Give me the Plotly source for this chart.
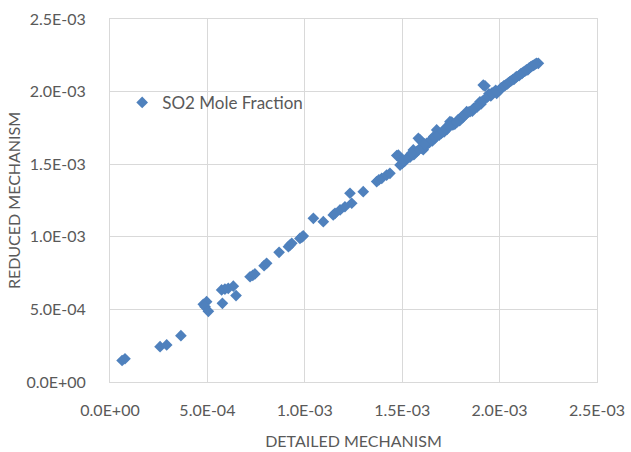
import plotly.graph_objects as go

# SO2 mole fraction: detailed mechanism (x) vs reduced mechanism (y)
detailed = [
    6.2e-5, 7.7e-5, 2.57e-4, 2.91e-4, 3.64e-4,
    4.79e-4, 4.96e-4, 4.88e-4, 5.05e-4, 5.77e-4, 5.73e-4, 5.90e-4, 6.07e-4, 6.33e-4, 6.47e-4,
    7.19e-4, 7.33e-4, 7.44e-4, 7.91e-4, 8.04e-4, 8.68e-4, 9.16e-4, 9.25e-4, 9.33e-4,
    9.75e-4, 9.92e-4, 9.85e-4,
    1.044e-3, 1.095e-3, 1.146e-3, 1.155e-3, 1.181e-3, 1.206e-3, 1.232e-3, 1.241e-3, 1.300e-3,
    1.369e-3, 1.380e-3, 1.395e-3, 1.420e-3, 1.437e-3,
    1.472e-3, 1.480e-3, 1.489e-3, 1.497e-3, 1.500e-3, 1.512e-3, 1.523e-3, 1.540e-3, 1.557e-3,
    1.560e-3, 1.574e-3, 1.583e-3, 1.591e-3, 1.600e-3, 1.608e-3, 1.620e-3, 1.626e-3, 1.640e-3,
    1.655e-3, 1.668e-3, 1.677e-3, 1.690e-3, 1.700e-3, 1.715e-3, 1.730e-3, 1.745e-3, 1.754e-3,
    1.760e-3, 1.770e-3, 1.780e-3, 1.795e-3, 1.810e-3, 1.825e-3, 1.831e-3, 1.848e-3, 1.860e-3,
    1.874e-3, 1.885e-3, 1.899e-3, 1.905e-3, 1.916e-3, 1.925e-3, 1.935e-3, 1.945e-3, 1.955e-3,
    1.965e-3, 1.975e-3, 1.985e-3, 1.995e-3, 2.002e-3, 2.015e-3, 2.030e-3, 2.045e-3, 2.060e-3,
    2.075e-3, 2.088e-3, 2.100e-3, 2.115e-3, 2.130e-3, 2.145e-3, 2.160e-3, 2.175e-3, 2.190e-3,
    2.199e-3,
    # extra samples filling the dense upper band
    1.505e-3, 1.530e-3, 1.548e-3, 1.585e-3, 1.615e-3, 1.648e-3, 1.662e-3, 1.684e-3, 1.708e-3,
    1.722e-3, 1.738e-3, 1.788e-3, 1.803e-3, 1.818e-3, 1.840e-3, 1.867e-3, 1.892e-3, 1.912e-3,
    1.940e-3, 1.960e-3, 1.980e-3, 2.008e-3, 2.022e-3, 2.038e-3, 2.052e-3, 2.068e-3, 2.082e-3,
    2.108e-3, 2.122e-3, 2.138e-3, 2.152e-3, 2.168e-3, 2.183e-3,
]
reduced = [
    1.48e-4, 1.60e-4, 2.43e-4, 2.55e-4, 3.19e-4,
    5.35e-4, 5.53e-4, 5.19e-4, 4.87e-4, 5.42e-4, 6.34e-4, 6.40e-4, 6.45e-4, 6.60e-4, 5.95e-4,
    7.25e-4, 7.35e-4, 7.44e-4, 8.01e-4, 8.17e-4, 8.93e-4, 9.32e-4, 9.45e-4, 9.55e-4,
    9.89e-4, 1.006e-3, 9.98e-4,
    1.127e-3, 1.104e-3, 1.150e-3, 1.162e-3, 1.185e-3, 1.207e-3, 1.300e-3, 1.231e-3, 1.311e-3,
    1.380e-3, 1.392e-3, 1.403e-3, 1.425e-3, 1.437e-3,
    1.560e-3, 1.563e-3, 1.494e-3, 1.529e-3, 1.505e-3, 1.520e-3, 1.540e-3, 1.548e-3, 1.598e-3,
    1.565e-3, 1.586e-3, 1.678e-3, 1.668e-3, 1.610e-3, 1.600e-3, 1.625e-3, 1.643e-3, 1.650e-3,
    1.660e-3, 1.680e-3, 1.736e-3, 1.700e-3, 1.712e-3, 1.722e-3, 1.740e-3, 1.793e-3, 1.790e-3,
    1.770e-3, 1.775e-3, 1.790e-3, 1.800e-3, 1.820e-3, 1.840e-3, 1.862e-3, 1.862e-3, 1.865e-3,
    1.890e-3, 1.895e-3, 1.930e-3, 1.915e-3, 2.045e-3, 2.040e-3, 1.960e-3, 1.985e-3, 1.970e-3,
    1.990e-3, 2.000e-3, 1.988e-3, 2.005e-3, 2.011e-3, 2.030e-3, 2.045e-3, 2.060e-3, 2.075e-3,
    2.085e-3, 2.103e-3, 2.110e-3, 2.125e-3, 2.140e-3, 2.150e-3, 2.170e-3, 2.180e-3, 2.195e-3,
    2.195e-3,
    1.525e-3, 1.545e-3, 1.575e-3, 1.600e-3, 1.640e-3, 1.668e-3, 1.690e-3, 1.700e-3, 1.725e-3,
    1.748e-3, 1.760e-3, 1.808e-3, 1.825e-3, 1.838e-3, 1.858e-3, 1.885e-3, 1.905e-3, 1.935e-3,
    1.968e-3, 1.990e-3, 2.008e-3, 2.025e-3, 2.040e-3, 2.052e-3, 2.068e-3, 2.082e-3, 2.098e-3,
    2.122e-3, 2.135e-3, 2.150e-3, 2.163e-3, 2.178e-3, 2.190e-3,
]

tick_vals = [0.0, 5e-4, 1e-3, 1.5e-3, 2e-3, 2.5e-3]
tick_text = ["0.0E+00", "5.0E-04", "1.0E-03", "1.5E-03", "2.0E-03", "2.5E-03"]

BLUE = "#4F81BD"
GRID = "#D9D9D9"
TEXT = "#595959"
FONT = "Lato"

fig = go.Figure()
fig.add_trace(go.Scatter(
    x=detailed, y=reduced, mode="markers", name="SO2 Mole Fraction",
    marker=dict(symbol="diamond", size=9, color=BLUE, line=dict(width=0)),
))

axis_common = dict(
    range=[0, 2.5e-3], tickmode="array", tickvals=tick_vals, ticktext=tick_text,
    showgrid=True, gridcolor=GRID, gridwidth=1, zeroline=False,
    showline=True, linecolor=GRID, linewidth=1, mirror=True,
    ticks="", tickfont=dict(family=FONT, size=16, color=TEXT),
    fixedrange=True, automargin=False,
)

fig.update_layout(
    width=631, height=452,
    margin=dict(l=110, r=34, t=19, b=70),
    paper_bgcolor="white", plot_bgcolor="white",
    font=dict(family=FONT, color=TEXT),
    xaxis=dict(**axis_common, ticklabelstandoff=14,
               title=dict(text="DETAILED MECHANISM", font=dict(family=FONT, size=16, color=TEXT),
                          standoff=17)),
    yaxis=dict(**axis_common, ticklabelstandoff=20,
               title=dict(text="REDUCED MECHANISM", font=dict(family=FONT, size=16, color=TEXT),
                          standoff=1)),
    showlegend=True,
    legend=dict(x=0.025, y=0.769, xanchor="left", yanchor="middle",
                bgcolor="rgba(0,0,0,0)", itemwidth=30,
                font=dict(family=FONT, size=17, color=TEXT)),
)

fig.write_html("out.html")
